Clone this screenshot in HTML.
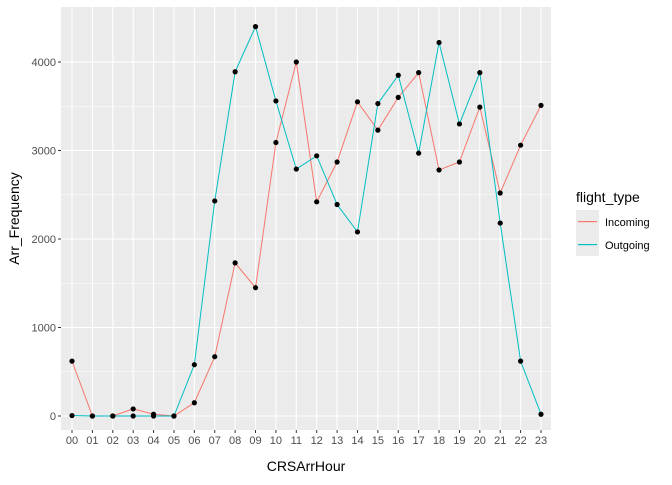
<!DOCTYPE html>
<html><head><meta charset="utf-8"><style>
body{margin:0;background:#fff;font-family:"Liberation Sans",sans-serif}
</style></head><body>
<svg id="chart" width="672" height="480" xmlns="http://www.w3.org/2000/svg" font-family="Liberation Sans, sans-serif">
</svg>
<script>
const hours=["00","01","02","03","04","05","06","07","08","09","10","11","12","13","14","15","16","17","18","19","20","21","22","23"];
const incoming=[620,0,0,80,20,0,150,670,1730,1450,3090,4000,2420,2870,3550,3230,3600,3880,2780,2870,3490,2520,3060,3510];
const outgoing=[5,0,0,0,0,0,580,2430,3890,4400,3560,2790,2940,2390,2080,3530,3850,2970,4220,3300,3880,2180,620,20];
const yTicks=[0,1000,2000,3000,4000];
const yMinor=[500,1500,2500,3500];
const NS="http://www.w3.org/2000/svg";
const svg=document.getElementById('chart');
const P={l:61,r:551,t:7,b:430};
const x=i=>72+i*(541-72)/23;
const y=v=>416-v*0.0885;
function mk(tag,attrs,parent){const e=document.createElementNS(NS,tag);for(const k in attrs)e.setAttribute(k,attrs[k]);(parent||svg).appendChild(e);return e;}
const bg=mk('rect',{x:P.l,y:P.t,width:P.r-P.l,height:P.b-P.t,fill:'#ebebeb'});


yMinor.forEach(v=>mk('line',{x1:P.l,x2:P.r,y1:y(v),y2:y(v),stroke:'#fff','stroke-width':0.5}));
yTicks.forEach(v=>{
  mk('line',{x1:P.l,x2:P.r,y1:y(v),y2:y(v),stroke:'#fff','stroke-width':1.1});
  mk('line',{x1:P.l-3,x2:P.l,y1:y(v),y2:y(v),stroke:'#333'});
  const t=mk('text',{x:P.l-5,y:y(v)+4,'text-anchor':'end','font-size':11,fill:'#4d4d4d'});t.textContent=v;
  
  
});
hours.forEach((h,i)=>{
  mk('line',{x1:x(i),x2:x(i),y1:P.t,y2:P.b,stroke:'#fff','stroke-width':1.1});
  mk('line',{x1:x(i),x2:x(i),y1:P.b,y2:P.b+3,stroke:'#333'});
  const t=mk('text',{x:x(i),y:P.b+14,'text-anchor':'middle','font-size':11,fill:'#4d4d4d'});t.textContent=h;
  
  
});
function series(vals,color,name){
  const p=mk('polyline',{points:vals.map((v,i)=>x(i)+','+y(v)).join(' '),fill:'none',stroke:color,'stroke-width':1});
  
  
}
series(incoming,'#F8766D','incoming');
series(outgoing,'#00BFC4','outgoing');
[incoming,outgoing].forEach(vals=>vals.forEach((v,i)=>{
  const c=mk('circle',{cx:x(i),cy:y(v),r:2.6,fill:'#000'});
  
  
}));
let t=mk('text',{x:(P.l+P.r)/2,y:471,'text-anchor':'middle','font-size':14,fill:'#000'});t.textContent='CRSArrHour';


t=mk('text',{x:0,y:0,transform:`translate(19,${(P.t+P.b)/2}) rotate(-90)`,'text-anchor':'middle','font-size':14,fill:'#000'});t.textContent='Arr_Frequency';


t=mk('text',{x:576,y:202,'font-size':14,fill:'#000'});t.textContent='flight_type';


const legendItems=[['Incoming','#F8766D',210],['Outgoing','#00BFC4',233]];
legendItems.forEach(item=>{
  const lab=item[0],col=item[1],ty=item[2];
  const g=mk('g',{});
  
  
  mk('rect',{x:576,y:ty,width:23,height:23,fill:'#ebebeb'},g);
  mk('rect',{x:578,y:ty+11,width:19,height:1.2,fill:col},g);
  const tt=mk('text',{x:605,y:ty+16,'font-size':11,fill:'#000'},g);tt.textContent=lab;
});
</script>
</body></html>
